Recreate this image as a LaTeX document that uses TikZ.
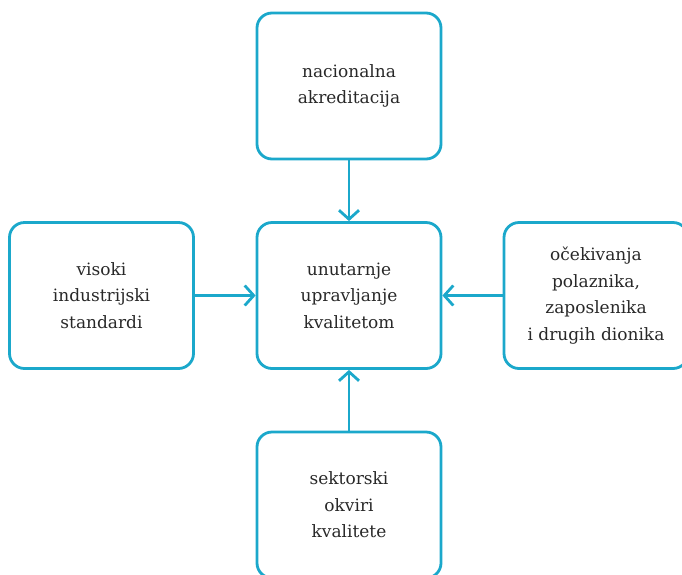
\documentclass[tikz,border=0pt]{standalone}
\usepackage{fontspec}
\setmainfont{DejaVu Serif}
\usetikzlibrary{arrows.meta}
\definecolor{boxblue}{RGB}{27,168,203}
\definecolor{txtgray}{RGB}{40,40,40}

\begin{document}
\begin{tikzpicture}[
    x=1pt, y=-1pt,
    every node/.style={draw=boxblue, line width=2.8pt, rounded corners=15pt,
        minimum width=184pt, minimum height=146pt, align=center,
        text=txtgray, font=\fontsize{17}{26.5}\selectfont},
    link/.style={draw=boxblue, line width=2.8pt,
        -{Straight Barb[length=9pt, width=20pt, line width=2.8pt]}}
    ]

    \useasboundingbox (0,0) rectangle (682,574);

    % Nodes
    \node (nat) at (349,86) {nacionalna\\akreditacija};
    \node (ind) at (101.5,295.5) {visoki\\industrijski\\standardi};
    \node (unut) at (349,295.5) {unutarnje\\upravljanje\\kvalitetom};
    \node (ocek) at (596,295.5) {očekivanja\\polaznika,\\zaposlenika\\i drugih dionika};
    \node (sekt) at (349,505) {sektorski\\okviri\\kvalitete};

    % Connections
    \foreach \s in {nat, ind, ocek, sekt}
        \path[link] (\s) -- (unut);

\end{tikzpicture}
\end{document}
